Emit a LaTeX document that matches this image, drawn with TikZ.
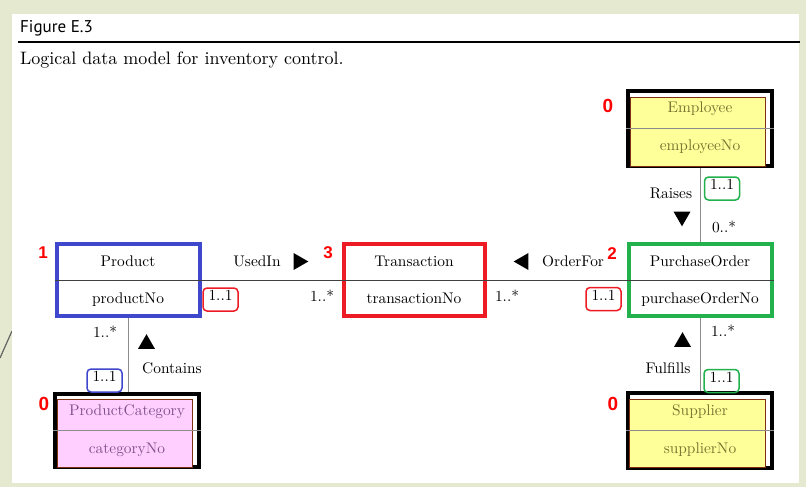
\documentclass[tikz,border=0pt]{standalone}
\usepackage{fontspec}
\usepackage{xcolor}
\setmainfont{lmroman10-regular}[Extension=.otf, BoldFont=lmroman10-bold]
\newfontfamily\figfont{PT Sans}
\newfontfamily\numfont{Liberation Sans}
\definecolor{fundo}{RGB}{228,233,207}
\definecolor{azul}{RGB}{63,72,204}
\definecolor{vermelho}{RGB}{237,28,36}
\definecolor{verde}{RGB}{34,177,76}
\definecolor{amarelo}{RGB}{255,255,153}
\definecolor{rosa}{RGB}{255,208,255}
\definecolor{marrom}{RGB}{128,48,16}
\definecolor{oliva}{RGB}{118,116,48}
\definecolor{lilas}{RGB}{128,80,140}
\usetikzlibrary{shapes.geometric}

\begin{document}
\begin{tikzpicture}[x=1pt, y=-1pt,
    txt/.style={font=\fontsize{15.4}{18}\selectfont, inner sep=0pt, anchor=base},
    ent/.style={rectangle, line width=4pt, minimum width=143pt, minimum height=72pt, inner sep=0pt},
    caixa/.style={ent, draw=black, minimum width=144pt, minimum height=75pt},
    dentro/.style={rectangle, draw=marrom, line width=0.8pt, inner sep=0pt},
    mult/.style={font=\fontsize{15.4}{18}\selectfont, rectangle, rounded corners=4pt, line width=1.5pt, inner sep=0pt, minimum width=35pt, minimum height=23pt, text depth=8pt},
    seta/.style={fill=black, regular polygon, regular polygon sides=3, inner sep=0pt, minimum size=19.6pt},
    num/.style={font=\numfont\bfseries\fontsize{17}{20}\selectfont, text=red, inner sep=0pt, anchor=base},
    liga/.style={draw=black!75, line width=0.8pt},
    ligv/.style={draw=black!45, line width=0.8pt}]

    % fundo
    \useasboundingbox (0,0) rectangle (806,487);
    \fill[fundo] (0,0) rectangle (806,487);
    \draw[black!60, line width=1.2pt] (0,358) -- (12,331);
    \fill[white] (12,14) rectangle (799,483);

    % titulo
    \node at (20,33) (fig) [anchor=base west, font=\figfont\fontsize{17}{20}\selectfont, inner sep=0pt] {Figure E.3};
    \draw[line width=1.3pt] (18,42) -- (800,42);
    \node at (20,64) (sub) [anchor=base west, font=\fontsize{18}{22}\selectfont, inner sep=0pt] {Logical data model for inventory control.};

    % entidades (1, 3, 2)
    \node at (128,280) (prod) [ent, draw=azul] {};
    \node at (414,280) (trans) [ent, draw=vermelho, minimum width=141pt] {};
    \node at (700,280) (po) [ent, draw=verde] {};
    \foreach \e in {prod,trans,po}
        \draw[liga] (\e.west) -- (\e.east);
    \node at (128,266) (prodN) [txt] {Product};
    \node at (128,303) (prodK) [txt] {productNo};
    \node at (414,266) (transN) [txt] {Transaction};
    \node at (414,303) (transK) [txt] {transactionNo};
    \node at (700,266) (poN) [txt] {PurchaseOrder};
    \node at (700,303) (poK) [txt] {purchaseOrderNo};

    % entidades (0)
    \node at (700,128) (emp) [caixa] {};
    \node at (697.5,131.5) (empF) [dentro, fill=amarelo, minimum width=135pt, minimum height=69pt] {};
    \node at (127,430.5) (cat) [caixa, minimum height=73pt] {};
    \node at (124.5,433) (catF) [dentro, fill=rosa, minimum width=135pt, minimum height=68pt] {};
    \node at (700,430) (sup) [caixa] {};
    \node at (697,433) (supF) [dentro, fill=amarelo, minimum width=136pt, minimum height=68pt] {};
    \foreach \e in {emp,cat,sup}
        \draw[ligv] (\e.west) -- (\e.east);
    \node at (700,112) (empN) [txt, text=oliva] {Employee};
    \node at (700,150) (empK) [txt, text=oliva] {employeeNo};
    \node at (127,415) (catN) [txt, text=lilas] {ProductCategory};
    \node at (127,453) (catK) [txt, text=lilas] {categoryNo};
    \node at (700,415) (supN) [txt, text=oliva] {Supplier};
    \node at (700,453) (supK) [txt, text=oliva] {supplierNo};

    % ligacoes
    \draw[liga] (prod.east) -- (trans.west);
    \draw[liga] (trans.east) -- (po.west);
    \draw[ligv] (emp.south) -- (po.north);
    \draw[ligv] (po.south) -- (sup.north);
    \draw[ligv] (prod.south) -- (prod.south |- cat.north);

    % nomes e setas
    \node at (257,266) (usedin) [txt] {UsedIn};
    \node at (298.5,261.5) (sUsed) [seta, rotate=-90] {};
    \node at (573,266) (orderfor) [txt] {OrderFor};
    \node at (523.5,261.5) (sOrder) [seta, rotate=90] {};
    \node at (671,198) (raises) [txt] {Raises};
    \node at (682,216.5) (sRaises) [seta, rotate=180] {};
    \node at (172,373) (contains) [txt] {Contains};
    \node at (146.5,344) (sContains) [seta] {};
    \node at (668,373) (fulfills) [txt] {Fulfills};
    \node at (682.5,342) (sFulfills) [seta] {};

    % multiplicidades
    \node at (220.5,299.5) (m1) [mult, draw=vermelho] {1..1};
    \node at (322,301) (m2) [txt] {1..*};
    \node at (507,301) (m3) [txt] {1..*};
    \node at (603.5,299) (m4) [mult, draw=vermelho] {1..1};
    \node at (722,188.5) (m5) [mult, draw=verde] {1..1};
    \node at (724,232) (m6) [txt] {0..*};
    \node at (723,336) (m7) [txt] {1..*};
    \node at (721.5,381) (m8) [mult, draw=verde] {1..1};
    \node at (105,337) (m9) [txt] {1..*};
    \node at (104.5,380.5) (m10) [mult, draw=azul] {1..1};

    % numeros
    \node at (43,258) (n1) [num] {1};
    \node at (328,258) (n3) [num] {3};
    \node at (612,259) (n2) [num] {2};
    \node at (608,113) (n0a) [num, font=\numfont\bfseries\fontsize{19}{22}\selectfont] {0};
    \node at (44,410) (n0b) [num, font=\numfont\bfseries\fontsize{19}{22}\selectfont] {0};
    \node at (613,410) (n0c) [num, font=\numfont\bfseries\fontsize{19}{22}\selectfont] {0};
\end{tikzpicture}
\end{document}
